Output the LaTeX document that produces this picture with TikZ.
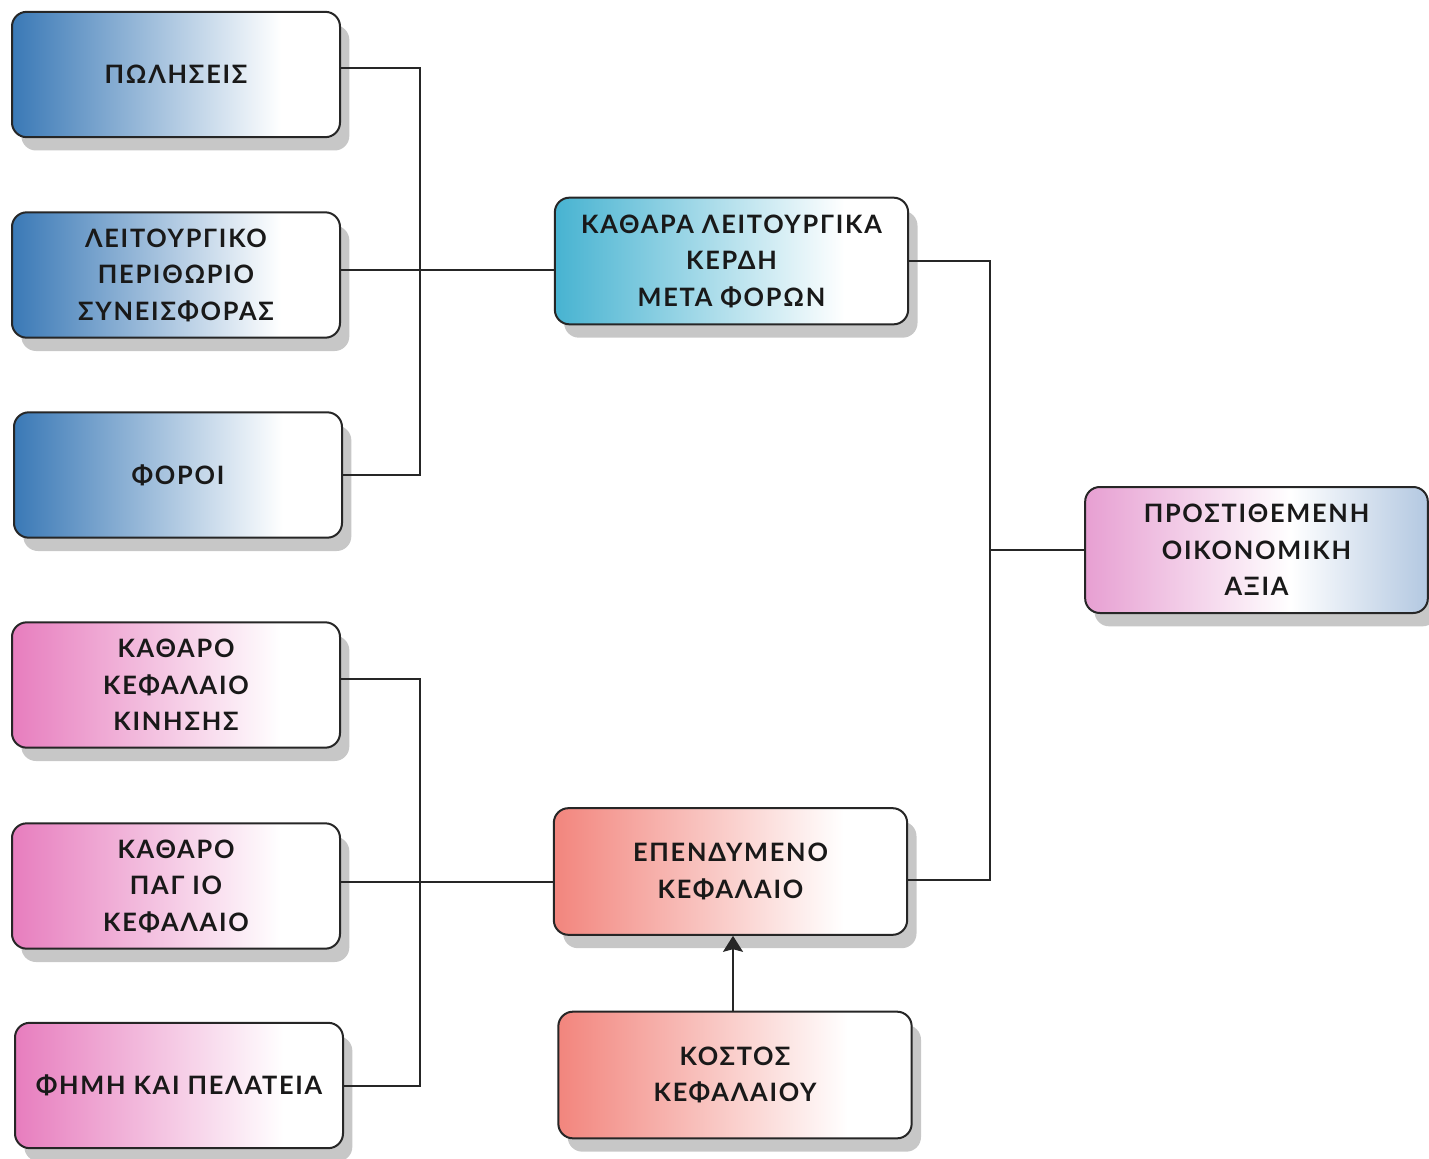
\documentclass[tikz,border=0pt]{standalone}
\usepackage{fontspec}
\setmainfont{Lato}
\newfontfamily\boxfamily[LetterSpace=7]{Lato}
\usetikzlibrary{shadows,arrows.meta}

% fill colours of the boxes (left edge of each fade)
\definecolor{cblue}{HTML}{3A79B6}
\definecolor{cpink}{HTML}{E77DBE}
\definecolor{csalmon}{HTML}{F2857D}
\definecolor{ccyan}{HTML}{47B3D1}
\definecolor{cprosL}{HTML}{E79FD2}
\definecolor{cprosR}{HTML}{B3C8E1}

% horizontal fades: the node spans 25bp..75bp of each shading
\pgfdeclarehorizontalshading{fadeblue}{100bp}{color(0bp)=(cblue); color(25bp)=(cblue); color(66bp)=(white); color(100bp)=(white)}
\pgfdeclarehorizontalshading{fadepink}{100bp}{color(0bp)=(cpink); color(25bp)=(cpink); color(66bp)=(white); color(100bp)=(white)}
\pgfdeclarehorizontalshading{fadesalmon}{100bp}{color(0bp)=(csalmon); color(25bp)=(csalmon); color(66bp)=(white); color(100bp)=(white)}
\pgfdeclarehorizontalshading{fadecyan}{100bp}{color(0bp)=(ccyan); color(25bp)=(ccyan); color(66bp)=(white); color(100bp)=(white)}
\pgfdeclarehorizontalshading{fadepros}{100bp}{color(0bp)=(cprosL); color(25bp)=(cprosL); color(55bp)=(white); color(75bp)=(cprosR); color(100bp)=(cprosR)}

\newcommand\boxfont{\boxfamily\bfseries\fontsize{19}{27.4}\selectfont}

\begin{document}
\begin{tikzpicture}[x=0.75pt,y=-0.75pt,
  box/.style={draw=black!85, line width=1.5pt, rounded corners=11pt,
    align=center, font=\boxfont, text=black!90, shade,
    drop shadow={shadow xshift=7pt, shadow yshift=-10pt, fill=black!22, opacity=1}},
  leftbox/.style={box, minimum width=246pt, minimum height=94pt},
  midbox/.style={box, minimum width=265pt, minimum height=95pt},
  conn/.style={draw=black!85, line width=1.5pt}]
\useasboundingbox (0,0) rectangle (1429,1159);

% input boxes, upper group
\node[leftbox, shading=fadeblue] (pol) at (176,74.5) {ΠΩΛΗΣΕΙΣ};
\node[leftbox, shading=fadeblue] (leit) at (176,275) {ΛΕΙΤΟΥΡΓΙΚΟ\\ΠΕΡΙΘΩΡΙΟ\\ΣΥΝΕΙΣΦΟΡΑΣ};
\node[leftbox, shading=fadeblue] (for) at (178,475) {ΦΟΡΟΙ};

% input boxes, lower group
\node[leftbox, shading=fadepink] (kin) at (176,685) {ΚΑΘΑΡΟ\\ΚΕΦΑΛΑΙΟ\\ΚΙΝΗΣΗΣ};
\node[leftbox, shading=fadepink] (pag) at (176,886) {ΚΑΘΑΡΟ\\ΠΑΓ ΙΟ\\ΚΕΦΑΛΑΙΟ};
\node[leftbox, shading=fadepink] (fim) at (179,1085.5) {ΦΗΜΗ ΚΑΙ ΠΕΛΑΤΕΙΑ};

% middle column
\node[midbox, shading=fadecyan] (kath) at (731.5,261) {ΚΑΘΑΡΑ ΛΕΙΤΟΥΡΓΙΚΑ\\ΚΕΡΔΗ\\ΜΕΤΑ ΦΟΡΩΝ};
\node[midbox, shading=fadesalmon] (ep) at (730.5,871.5) {ΕΠΕΝΔΥΜΕΝΟ\\ΚΕΦΑΛΑΙΟ};
\node[midbox, shading=fadesalmon] (kos) at (735,1075) {ΚΟΣΤΟΣ\\ΚΕΦΑΛΑΙΟΥ};

% result
\node[box, shading=fadepros, minimum width=257pt, minimum height=94.5pt] (pros) at (1256.5,550) {ΠΡΟΣΤΙΘΕΜΕΝΗ\\ΟΙΚΟΝΟΜΙΚΗ\\ΑΞΙΑ};

% bus points
\coordinate (busA) at (420,270);
\coordinate (busB) at (420,882);
\coordinate (busR) at (990,550);

% connectors
\draw[conn] ([yshift=4.9pt]pol.east) -| (busA) |- (for.east);
\draw[conn] (leit.east |- busA) -- (kath.west |- busA);
\draw[conn] ([yshift=4.5pt]kin.east) -| (busB) |- (fim.east);
\draw[conn] (pag.east |- busB) -- (ep.west |- busB);
\draw[conn] (kath.east) -| (busR) |- ([yshift=-6.4pt]ep.east);
\draw[conn] (busR) -- (pros.west |- busR);
\draw[conn, -{Stealth[length=12pt, width=15pt, inset=2pt]}] ([xshift=-1.5pt]kos.north) -- ([xshift=-1.5pt]kos.north |- ep.south);
\end{tikzpicture}
\end{document}
